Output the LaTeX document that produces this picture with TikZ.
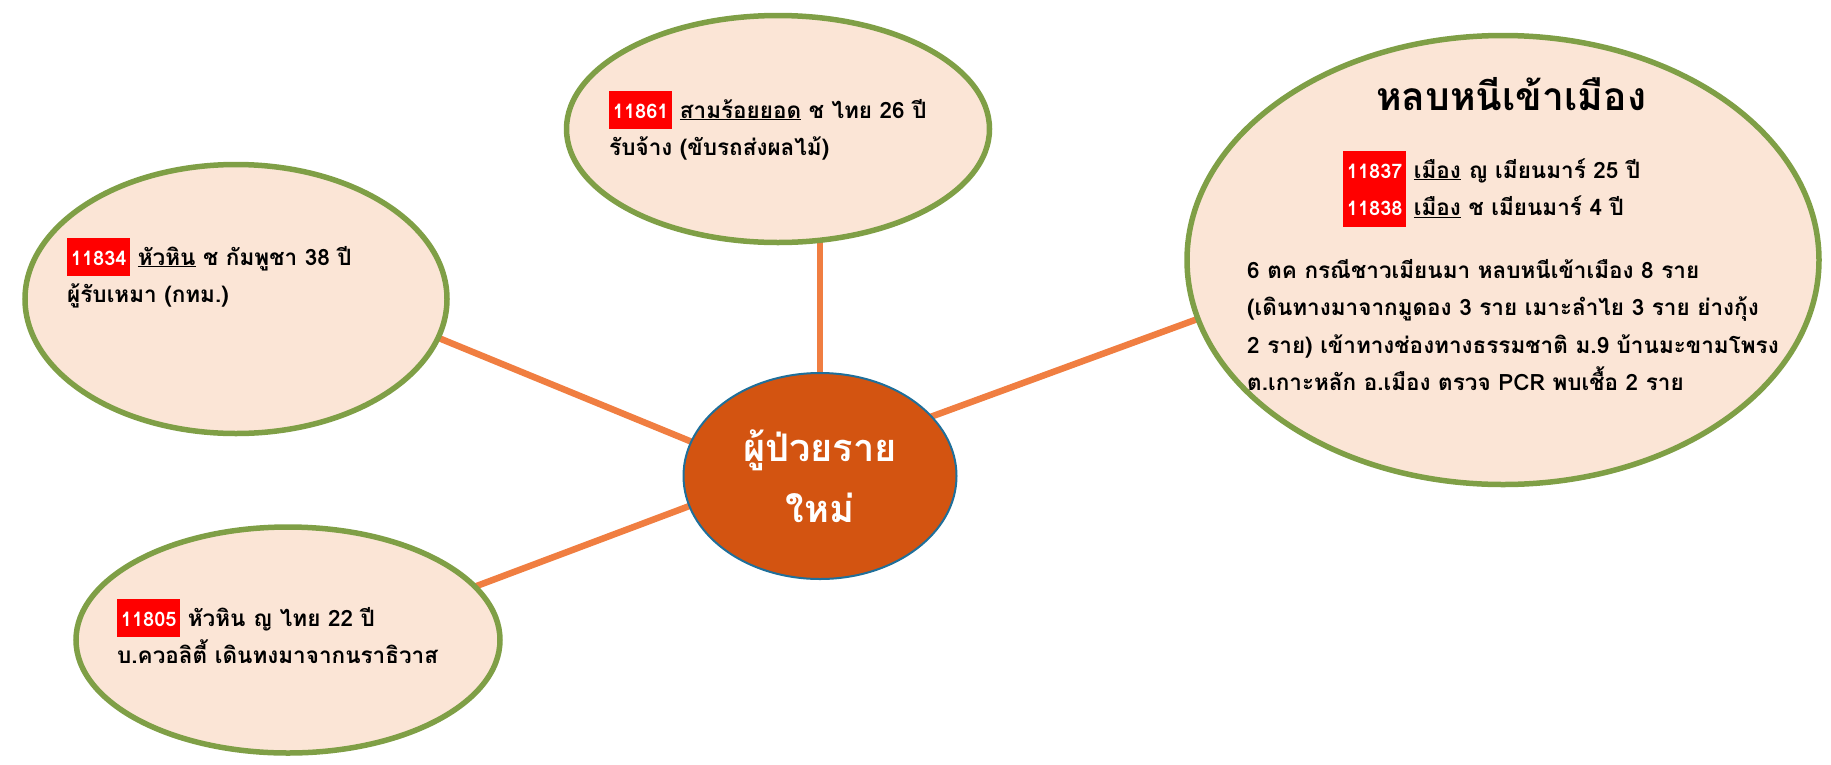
\documentclass[tikz,border=0pt]{standalone}
\usepackage{fontspec}
\setmainfont[Script=Thai]{Loma}
\usepackage{xcolor}
\usepackage{tikz}
\usetikzlibrary{shapes.geometric, backgrounds}
\definecolor{peach}{HTML}{FBE5D6}
\definecolor{rimgreen}{HTML}{7F9F46}
\definecolor{spokeorange}{HTML}{F07E41}
\definecolor{hubfill}{HTML}{D35411}
\definecolor{hubrim}{HTML}{1F6F9A}
\newcommand{\casefont}{\bfseries\fontsize{22.5}{37.5}\selectfont\lineskiplimit=-100pt\relax}
\tikzset{
    patient/.style={ellipse, draw=rimgreen, line width=5.5pt, fill=peach, inner sep=0pt},
    hub/.style={ellipse, draw=hubrim, line width=2pt, fill=hubfill, inner sep=0pt, text=white, align=center, font=\bfseries\fontsize{38}{61}\selectfont},
    spoke/.style={draw=spokeorange, line width=6.5pt, shorten <=-8pt, shorten >=-8pt},
    casetext/.style={anchor=base west, align=left, inner sep=0pt, font=\casefont}
}
\newcommand{\caseno}[1]{{\setlength{\fboxsep}{0pt}\colorbox{red}{\rule[-11pt]{0pt}{38pt}\,\textcolor{white}{\fontsize{20}{24}\selectfont #1}\,}}}

\begin{document}
\begin{tikzpicture}[x=1pt, y=-1pt]
    \useasboundingbox (0,0) rectangle (1831,764);
    % Bubbles
    \node[patient, minimum width=423pt, minimum height=227pt] (top) at (778,129) {};
    \node[patient, minimum width=422pt, minimum height=269pt] (left) at (236,299) {};
    \node[patient, minimum width=424pt, minimum height=226pt] (low) at (288,640) {};
    \node[patient, minimum width=632pt, minimum height=449pt] (right) at (1503,260) {};
    \node[hub, minimum width=273pt, minimum height=206pt] (mid) at (820,476) {ผู้ป่วยราย\\ใหม่};

    % Spokes behind the bubbles
    \begin{scope}[on background layer]
        \draw[spoke] (mid.center) -- (mid.center |- top.center);
        \draw[spoke] (mid.165) -- (left.-11);
        \draw[spoke] (mid.193) -- (low.16);
        \draw[spoke] (mid.28) -- (right.191);
    \end{scope}

    % Case texts (anchored on the last line)
    \node[casetext] (toptext) at (609,155.5)
        {\caseno{11861} \underline{สามร้อยยอด} ช ไทย 26 ปี\\ รับจ้าง (ขับรถส่งผลไม้)};
    \node[casetext] (lefttext) at (67,302.5)
        {\caseno{11834} \underline{หัวหิน} ช กัมพูชา 38 ปี\\ ผู้รับเหมา (กทม.)};
    \node[casetext] (lowtext) at (117,663.5)
        {\caseno{11805} หัวหิน ญ ไทย 22 ปี\\ บ.ควอลิตี้ เดินทงมาจากนราธิวาส};
    \node[font=\bfseries\fontsize{39}{45}\selectfont, anchor=base, inner sep=0pt] (title) at (1511,110) {หลบหนีเข้าเมือง};
    \node[casetext] (righttext) at (1343,215.5)
        {\caseno{11837} \underline{เมือง} ญ เมียนมาร์ 25 ปี\\ \caseno{11838} \underline{เมือง} ช เมียนมาร์ 4 ปี};
    \node[casetext] (rightnote) at (1247,390.5)
        {6 ตค กรณีชาวเมียนมา หลบหนีเข้าเมือง 8 ราย\\
         (เดินทางมาจากมูดอง 3 ราย เมาะลำไย 3 ราย ย่างกุ้ง\\
         2 ราย) เข้าทางช่องทางธรรมชาติ ม.9 บ้านมะขามโพรง\\
         ต.เกาะหลัก อ.เมือง ตรวจ PCR พบเชื้อ 2 ราย};
\end{tikzpicture}
\end{document}
